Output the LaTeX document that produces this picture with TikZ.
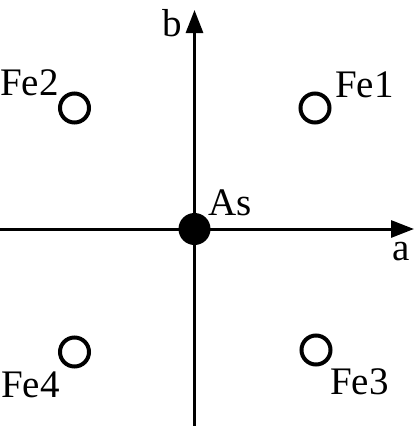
\documentclass[tikz,border=0pt]{standalone}
\usepackage{fontspec}
\setmainfont{Liberation Serif}
\usetikzlibrary{arrows.meta}
\begin{document}
\begin{tikzpicture}[x=1pt,y=-1pt,
  axis/.style={line width=3pt, -{Triangle[length=23pt,width=17pt]}},
  site/.style={circle, draw, line width=4pt, minimum size=29pt, inner sep=0pt},
  asatom/.style={circle, fill=black, minimum size=32pt, inner sep=0pt},
  lbl/.style={font=\fontsize{39}{42}\selectfont, inner sep=0pt, anchor=base west}]
\useasboundingbox (0,0) rectangle (415,426);
\coordinate (xs) at (0,229);
\coordinate (xe) at (414,229);
\coordinate (ys) at (194.5,426);
\coordinate (ye) at (194.5,10);
\draw[axis] (xs) -- (xe);
\draw[axis] (ys) -- (ye);
\node[asatom] (as) at (194.5,229) {};
\node[site] (fe1) at (315,108) {};
\node[site] (fe2) at (74.5,108) {};
\node[site] (fe3) at (316,350) {};
\node[site] (fe4) at (74.5,352) {};
\node[lbl] (lb) at (162,36) {b};
\node[lbl] (la) at (392,260) {a};
\node[lbl] (las) at (208,215) {As};
\node[lbl] (l1) at (335,97) {Fe1};
\node[lbl] (l2) at (0,95) {Fe2};
\node[lbl] (l3) at (330,394) {Fe3};
\node[lbl] (l4) at (1,397) {Fe4};
\end{tikzpicture}
\end{document}
